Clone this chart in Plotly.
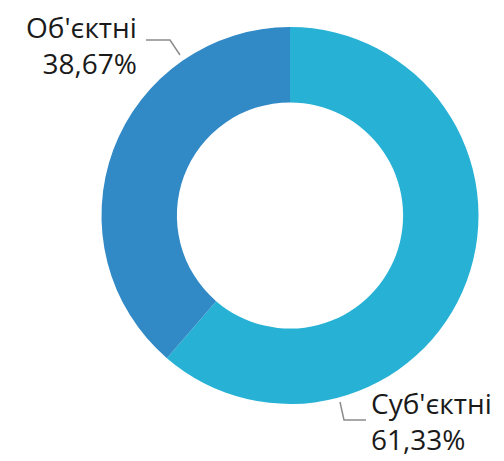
import plotly.graph_objects as go

labels = ["Суб'єктні", "Об'єктні"]
values = [61.33, 38.67]
pct_text = ["61,33%", "38,67%"]
colors = ["#27B1D4", "#3189C6"]

W, H = 504, 461
OFF = 8  # page body margin

def px(x):
    return (x - OFF) / W

def py(y):
    return 1 - (y - OFF) / H

fig = go.Figure(go.Pie(
    labels=labels,
    values=values,
    hole=0.6,
    sort=False,
    direction="clockwise",
    rotation=0,
    marker=dict(colors=colors, line=dict(width=0)),
    textinfo="none",
    hoverinfo="label+percent",
    domain=dict(x=[px(101), px(479)], y=[py(404), py(27)]),
    showlegend=False,
))

font = dict(family="Open Sans, Noto Sans, sans-serif", size=28, color="#1a1a1a")

fig.add_annotation(
    x=px(137), y=py(8), xref="paper", yref="paper",
    xanchor="right", yanchor="top", align="right",
    text=f"{labels[1]}<br>{pct_text[1]}", showarrow=False, font=font,
    borderpad=0, borderwidth=0,
)
fig.add_annotation(
    x=px(371), y=py(384), xref="paper", yref="paper",
    xanchor="left", yanchor="top", align="left",
    text=f"{labels[0]}<br>{pct_text[0]}", showarrow=False, font=font,
    borderpad=0, borderwidth=0,
)

line = dict(color="#8c8c8c", width=1.5)
fig.add_shape(type="path", xref="paper", yref="paper",
              path=f"M {px(146)} {py(40)} L {px(170)} {py(40)} L {px(180)} {py(55)}",
              line=line)
fig.add_shape(type="path", xref="paper", yref="paper",
              path=f"M {px(340)} {py(402)} L {px(344)} {py(420)} L {px(366)} {py(420)}",
              line=line)

fig.update_layout(
    width=W, height=H,
    margin=dict(l=0, r=0, t=0, b=0),
    paper_bgcolor="white",
    plot_bgcolor="white",
)

fig.write_html("out.html")
